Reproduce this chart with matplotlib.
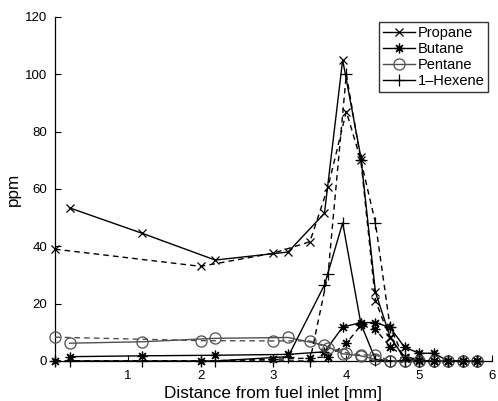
import matplotlib
matplotlib.use("Agg")
import matplotlib.pyplot as plt

plt.rcParams['font.family'] = ['Liberation Sans', 'DejaVu Sans']

# two sample grids: solid curves and dashed curves
x_solid = [0.2, 1.2, 2.2, 3.2, 3.7, 3.95, 4.2, 4.4, 4.6, 4.8, 5.0, 5.2, 5.4, 5.6, 5.8]
x_dash = [0.0, 2.0, 3.0, 3.5, 3.75, 4.0, 4.2, 4.4, 4.6, 4.8, 5.0, 5.2, 5.4, 5.6, 5.8]

propane_solid = [53.4, 44.5, 35.2, 38.0, 51.5, 105, 71, 24, 8.5, 1, 0, 0, 0, 0, 0]
butane_solid = [1.5, 1.8, 2.0, 2.3, 3.2, 11.8, 13.4, 13.4, 11.7, 4.8, 2.7, 2.7, 0, 0, 0]
pentane_solid = [6.2, 6.7, 7.9, 8.2, 5.5, 2.5, 1.8, 0.6, 0, 0, 0, 0, 0, 0, 0]
hexene_solid = [0, 0, 0, 1.5, 26.5, 48.2, 13, 0.5, 0, 0, 0, 0, 0, 0, 0]

propane_dash = [39, 33, 37.6, 41.6, 60.8, 87, 70, 21, 8, 1, 0, 0, 0, 0, 0]
butane_dash = [0, 0, 0.6, 1.0, 1.5, 6.1, 12.5, 11.0, 5, 1.5, 0.5, 0, 0, 0, 0]
pentane_dash = [8.3, 7.1, 7.0, 7.0, 4.6, 2.9, 2.1, 2.1, 0, 0, 0, 0, 0, 0, 0]
hexene_dash = [0, 0, 0, 0, 30.5, 100, 70, 48.2, 12, 0.5, 0, 0, 0, 0, 0]

names = ["Propane", "Butane", "Pentane", "1\u2013Hexene"]
markers = ["x", (8, 2, 0), "o", "+"]
colors = ["k", "k", "#505050", "k"]
msizes = [6, 7, 8, 8]

fig = plt.figure(figsize=(4.98, 4.01), dpi=100)
ax = fig.add_axes([0.1104, 0.0998, 0.8775, 0.858])

solid = [propane_solid, butane_solid, pentane_solid, hexene_solid]
dash = [propane_dash, butane_dash, pentane_dash, hexene_dash]

for i in range(4):
    ax.plot(x_solid, solid[i], color=colors[i], lw=1.0, marker=markers[i],
            ms=msizes[i], mfc="none", mec=colors[i], mew=0.9,
            label=names[i], clip_on=False, zorder=3)
for i in range(4):
    ax.plot(x_dash, dash[i], color=colors[i], lw=1.0, ls=(0, (4, 3)),
            marker=markers[i], ms=msizes[i], mfc="none", mec=colors[i],
            mew=0.9, clip_on=False, zorder=3)

ax.set_xlim(0, 6)
ax.set_ylim(0, 120)
ax.set_xticks([1, 2, 3, 4, 5, 6])
ax.set_yticks([0, 20, 40, 60, 80, 100, 120])
ax.tick_params(direction="in", length=4, width=0.8, labelsize=9.5)
ax.tick_params(axis="x", pad=6.5)
ax.tick_params(axis="y", pad=5.5)
ax.spines["top"].set_visible(False)
ax.spines["right"].set_visible(False)
ax.spines["left"].set_linewidth(0.9)
ax.spines["bottom"].set_linewidth(0.9)

ax.set_xlabel("Distance from fuel inlet [mm]", fontsize=12.3, labelpad=3)
ax.set_ylabel("ppm", fontsize=12.3, labelpad=3)

leg = fig.legend(loc="upper right", bbox_to_anchor=(0.980, 0.945),
                 fontsize=10.5, frameon=True, fancybox=False,
                 edgecolor="k", handlelength=2.2, handletextpad=0.2,
                 labelspacing=0.15, borderpad=0.25, borderaxespad=0)
leg.get_frame().set_linewidth(1.0)

plt.savefig("out.png", dpi=100)
